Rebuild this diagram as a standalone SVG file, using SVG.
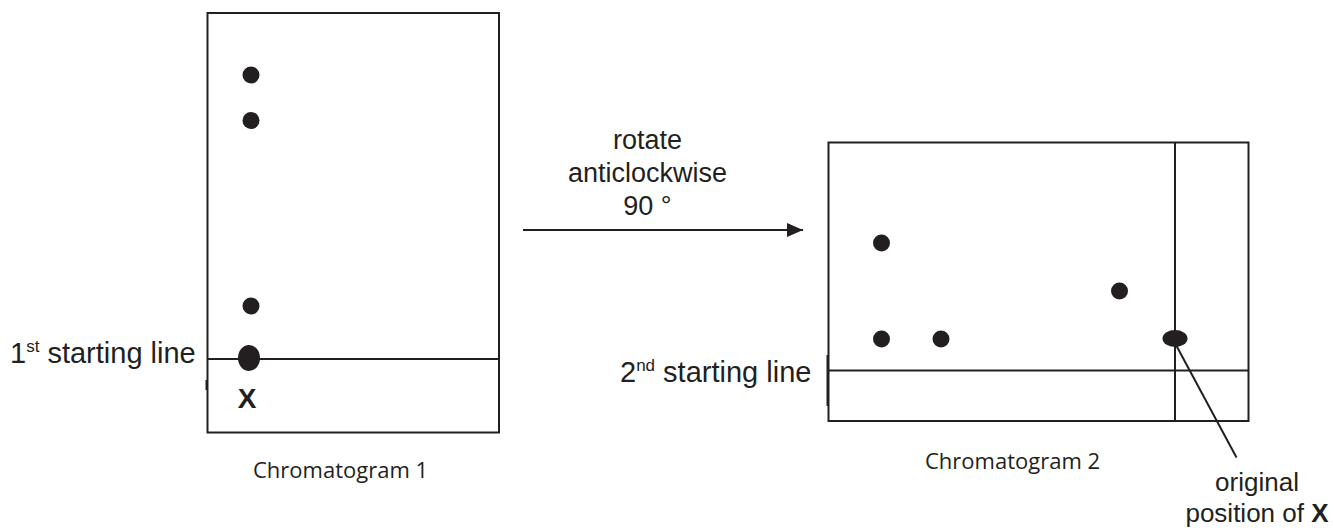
<svg xmlns="http://www.w3.org/2000/svg" width="1334" height="528" viewBox="0 0 1334 528">
<style>
.box{fill:none;stroke:#231f20;stroke-width:2}
.ln{stroke:#231f20;stroke-width:2;fill:none}
.dot{fill:#231f20}
.lab{font-family:"Liberation Sans",Arial,sans-serif;fill:#231f20}
.cap{font-family:"Open Sans","Noto Sans",sans-serif;font-size:22px;fill:#231f20}
</style>
<defs>
<marker id="ah" markerWidth="16" markerHeight="14" refX="16" refY="7" orient="auto" markerUnits="userSpaceOnUse">
<path d="M0,0 L16,7 L0,14 Z" fill="#231f20"/>
</marker>
</defs>
<rect width="1334" height="528" fill="#fff"/>
<g id="chromatogram1">
<rect class="box" x="207.5" y="13" width="291.5" height="419.5"/>
<line class="ln" x1="207.5" y1="359" x2="240" y2="359" stroke-width="1.5"/>
<line class="ln" x1="240" y1="359" x2="499" y2="359" stroke-width="2.5"/>
<line class="ln" x1="206.5" y1="380" x2="206.5" y2="390" stroke-width="2"/>
<circle class="dot" cx="251" cy="75" r="8.5"/>
<circle class="dot" cx="251" cy="120.5" r="8.5"/>
<circle class="dot" cx="251" cy="306" r="8.5"/>
<ellipse class="dot" cx="249" cy="358" rx="11" ry="13"/>
<text class="lab" x="247" y="408" font-size="28" font-weight="bold" text-anchor="middle">X</text>
<text class="cap" x="253" y="478">Chromatogram 1</text>
</g>
<g id="label1">
<text class="lab" x="10" y="363" font-size="29">1<tspan font-size="17" dy="-11">st</tspan><tspan dy="11"> starting line</tspan></text>
</g>
<g id="rotate-label">
<text class="lab" font-size="27" text-anchor="middle"><tspan x="647.5" y="149">rotate</tspan><tspan x="647.5" y="182">anticlockwise</tspan><tspan x="647.5" y="215">90 °</tspan></text>
</g>
<g id="chromatogram2">
<rect class="box" x="828.5" y="142.5" width="420" height="278.5"/>
<line class="ln" x1="828.5" y1="370.5" x2="1248.5" y2="370.5"/>
<line class="ln" x1="1175" y1="142.5" x2="1175" y2="421"/>
<line class="ln" x1="827.5" y1="355" x2="827.5" y2="406" stroke-width="3"/>
<circle class="dot" cx="881.5" cy="243" r="8.5"/>
<circle class="dot" cx="881.5" cy="339" r="8.5"/>
<circle class="dot" cx="941" cy="339" r="8.5"/>
<circle class="dot" cx="1119.5" cy="291" r="8.5"/>
<ellipse class="dot" cx="1175" cy="338.5" rx="12.5" ry="8.5"/>
<text class="cap" x="925" y="469">Chromatogram 2</text>
</g>
<g id="label2">
<text class="lab" x="620" y="382" font-size="29">2<tspan font-size="17" dy="-11">nd</tspan><tspan dy="11"> starting line</tspan></text>
</g>
<g id="label-original">
<text class="lab" x="1257" y="491" font-size="26" text-anchor="middle">original</text>
<text class="lab" x="1257" y="522" font-size="26" text-anchor="middle">position of <tspan font-weight="bold">X</tspan></text>
</g>
<g id="connectors">
<line class="ln" x1="523" y1="230" x2="803" y2="230" stroke-width="2" marker-end="url(#ah)"/>
<line class="ln" x1="1176" y1="345" x2="1236.5" y2="457.5" stroke-width="2"/>
</g>
</svg>
